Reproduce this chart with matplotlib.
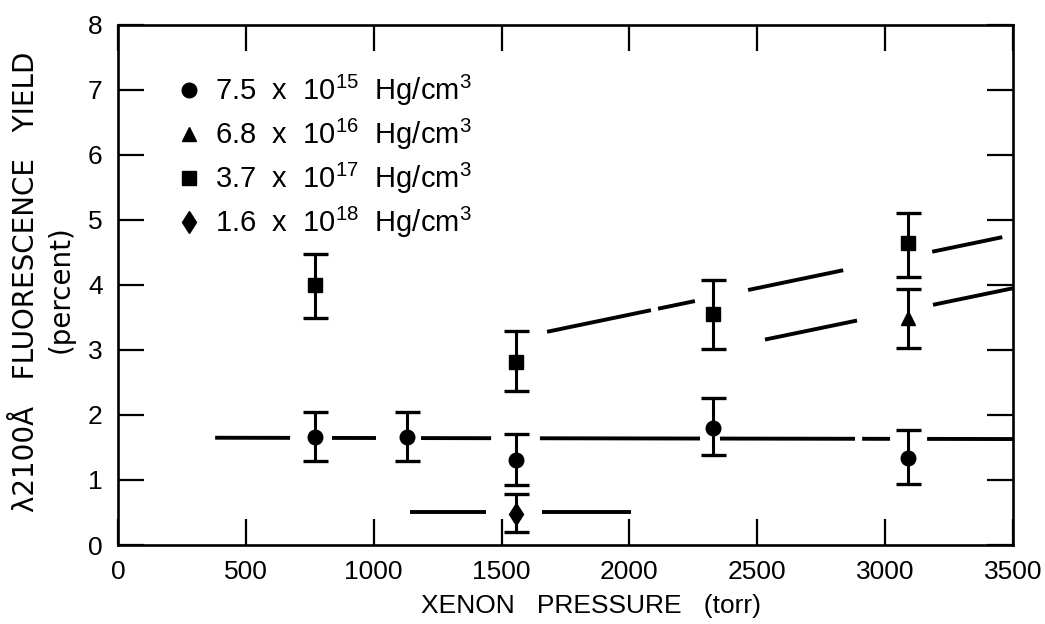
import numpy as np
import matplotlib
matplotlib.use("Agg")
import matplotlib.pyplot as plt
from matplotlib.lines import Line2D

plt.rcParams["font.family"] = ["Liberation Sans", "DejaVu Sans"]
plt.rcParams["mathtext.fontset"] = "custom"
plt.rcParams["mathtext.rm"] = "Liberation Sans"

# measured points (xenon pressure in torr, yield in percent)
circ_x = [770, 1130, 1555, 2325, 3090]
circ_y = [1.66, 1.66, 1.31, 1.80, 1.34]
circ_lo = [1.29, 1.29, 0.92, 1.38, 0.94]
circ_hi = [2.05, 2.05, 1.71, 2.26, 1.77]

tri_x = [3090]
tri_y = [3.49]
tri_lo = [3.03]
tri_hi = [3.94]

sq_x = [770, 1555, 2325, 3090]
sq_y = [4.00, 2.82, 3.55, 4.64]
sq_lo = [3.49, 2.37, 3.02, 4.12]
sq_hi = [4.48, 3.29, 4.08, 5.10]

dia_x = [1555]
dia_y = [0.47]
dia_lo = [0.20]
dia_hi = [0.78]

labels = [
    r"7.5  x  10$\mathregular{^{15}}$  Hg/cm$\mathregular{^3}$",
    r"6.8  x  10$\mathregular{^{16}}$  Hg/cm$\mathregular{^3}$",
    r"3.7  x  10$\mathregular{^{17}}$  Hg/cm$\mathregular{^3}$",
    r"1.6  x  10$\mathregular{^{18}}$  Hg/cm$\mathregular{^3}$",
]

# hand-drawn trend lines: end points and the visible dashes (x ranges)
circ_fit = ([380, 3500], [1.65, 1.63])
circ_pieces = [(380, 673), (837, 1009), (1185, 1459), (1650, 2276),
               (2354, 2882), (2910, 3019), (3164, 3500)]
sq_fit = ([1678, 3500], [3.28, 4.77])
sq_pieces = [(1678, 2084), (2112, 2256), (2464, 2836), (3184, 3458)]
tri_fit = ([2530, 3500], [3.16, 3.95])
tri_pieces = [(2530, 2890), (3187, 3500)]
dia_fit = ([1142, 2006], [0.50, 0.50])
dia_pieces = [(1142, 1439), (1658, 2006)]

fig = plt.figure(figsize=(10.45, 6.24), dpi=100)
ax = fig.add_axes([0.1129, 0.1266, 0.8565, 0.8334])

for fit, pieces in [(circ_fit, circ_pieces), (sq_fit, sq_pieces),
                    (tri_fit, tri_pieces), (dia_fit, dia_pieces)]:
    for a, b in pieces:
        xs = np.array([a, b])
        ax.plot(xs, np.interp(xs, fit[0], fit[1]), color="black", lw=2.8,
                solid_capstyle="butt", zorder=2)

series = [
    (circ_x, circ_y, circ_lo, circ_hi, "o", 10.5),
    (tri_x, tri_y, tri_lo, tri_hi, "^", 10.5),
    (sq_x, sq_y, sq_lo, sq_hi, "s", 10.5),
    (dia_x, dia_y, dia_lo, dia_hi, "d", 11.5),
]
handles = []
for (x, y, lo, hi, m, ms), lab in zip(series, labels):
    y = np.array(y)
    yerr = [y - np.array(lo), np.array(hi) - y]
    ax.errorbar(x, y, yerr=yerr, fmt=m, ms=ms, color="black", ecolor="black",
                elinewidth=2.2, capsize=9, capthick=2.4, zorder=3)
    handles.append(Line2D([], [], marker=m, ms=ms, color="black", ls="none", label=lab))

ax.set_xlim(0, 3500)
ax.set_ylim(0, 8)
ax.set_xticks(np.arange(0, 3501, 500))
ax.set_yticks(np.arange(0, 9, 1))
ax.tick_params(direction="in", length=19, width=1.6, top=True, right=True,
               labelsize=19)
ax.tick_params(axis="x", pad=11)
ax.tick_params(axis="y", pad=11)
for s in ax.spines.values():
    s.set_linewidth(1.9)

ax.set_xlabel("XENON   PRESSURE   (torr)", fontsize=19, va="center")
ax.xaxis.set_label_coords(0.528, -0.117)
fig.text(0.0249, 0.548, "λ2100Å   FLUORESCENCE   YIELD", rotation=90,
         ha="center", va="center", fontsize=20, family="DejaVu Sans")
fig.text(0.0584, 0.537, "(percent)", rotation=90, ha="center", va="center",
         fontsize=20, family="DejaVu Sans")

leg = ax.legend(handles=handles, loc="upper left", bbox_to_anchor=(0.05, 0.93),
                frameon=False, handlelength=1.0, handletextpad=0.4,
                labelspacing=0.3, fontsize=21, borderaxespad=0)

fig.savefig("out.png", dpi=100)
